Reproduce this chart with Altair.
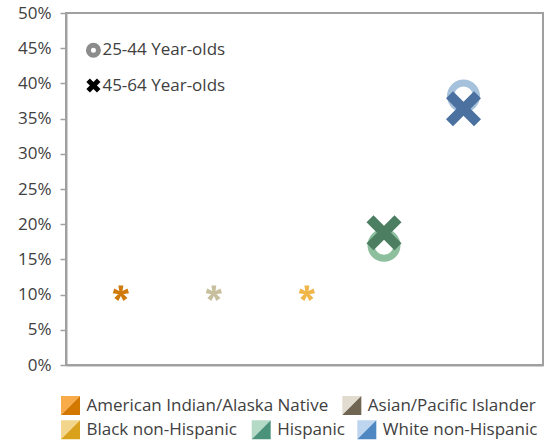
import altair as alt
import numpy as np
import pandas as pd

# ---- data -------------------------------------------------------------
groups = [
    "American Indian/Alaska Native",
    "Asian/Pacific Islander",
    "Black non-Hispanic",
    "Hispanic",
    "White non-Hispanic",
]
x_pos = [0.69, 1.86, 3.03, 4.0, 5.0]
age_25_44 = [None, None, None, 17.0, 38.2]   # percent
age_45_64 = [None, None, None, 18.8, 36.4]   # percent
suppressed = [10.2, 10.2, 10.2, None, None]   # shown as asterisks

age_labels = ["25-44 Year-olds", "45-64 Year-olds"]
age_key_y = [44.7, 39.7]

y_ticks = [0, 5, 10, 15, 20, 25, 30, 35, 40, 45, 50]

# ---- styling ------------------------------------------------------------
FONT = "Open Sans"
FS = 17
TEXT = "#404040"
AXIS = "#A0A0A0"

mark_fill = ["#CF7A0B", "#C8BF9E", "#F0B64A", "#4C7F62", "#4A71A0"]
ring_color = ["#CF7A0B", "#C8BF9E", "#F0B64A", "#8DBE9E", "#A6C1DB"]
swatch_light = ["#F9AB4A", "#E2DCD0", "#F3D58C", "#B4DAC6", "#BDD5EE"]
swatch_dark = ["#D27700", "#6F6550", "#DAA21C", "#4A937A", "#4E87C1"]

# legend layout: row and swatch-centre offset from the plot's left edge (px)
legend_row = [0, 0, 1, 1, 1]
legend_col = [4.5, 285.8, 4.5, 195.2, 300.8]
LEGEND_ROWS_PX = [392.5, 416.7]

W, H = 477, 352


def x_shape(k):
    pts = [(-1 + k, -1), (0, -k), (1 - k, -1), (1, -1 + k), (k, 0), (1, 1 - k),
           (1 - k, 1), (0, k), (-1 + k, 1), (-1, 1 - k), (-k, 0), (-1, -1 + k)]
    return "M" + " L".join(f"{a:.3f},{b:.3f}" for a, b in pts) + " Z"


def asterisk_shape(wb=0.16, we=0.32, arms=5):
    parts = []
    for i in range(arms):
        t = np.deg2rad(i * 360 / arms)
        d = np.array([np.sin(t), -np.cos(t)])
        p = np.array([np.cos(t), np.sin(t)])
        c0, c1 = -d * 0.05, d * 1.0
        pts = [c0 + p * wb, c1 + p * we, c1 - p * we, c0 - p * wb]
        parts.append("M" + " L".join(f"{a:.3f},{b:.3f}" for a, b in pts) + " Z")
    return " ".join(parts)


X_BIG = x_shape(0.40)
X_KEY = x_shape(0.50)
STAR = asterisk_shape()
TRI_UL = "M-1,-1 L1,-1 L-1,1 Z"
TRI_LR = "M1,-1 L1,1 L-1,1 Z"

df = pd.DataFrame({
    "group": groups,
    "x": x_pos,
    "a25": age_25_44,
    "a45": age_45_64,
    "sup": suppressed,
})
key_df = pd.DataFrame({"label": age_labels, "y": age_key_y, "x": [0.345, 0.345]})

xs = alt.Scale(domain=[0, 6])
ys = alt.Scale(domain=[0, 50])
x_axis = alt.Axis(labels=False, ticks=False, grid=False, title=None,
                  domainColor=AXIS, domainWidth=2)
y_axis = alt.Axis(values=y_ticks, labelExpr="datum.value + '%'", labelOverlap=False,
                  grid=False, title=None, domainColor=AXIS, domainWidth=2,
                  tickColor=AXIS, tickSize=6, tickWidth=1.5, labelPadding=9)
fill_scale = alt.Scale(domain=groups, range=mark_fill)
ring_scale = alt.Scale(domain=groups, range=ring_color)


def px(field):
    return alt.X(field, scale=xs, axis=x_axis)


def py(field):
    return alt.Y(field, scale=ys, axis=y_axis)


base = alt.Chart(df)

rings = base.mark_point(filled=False, shape="circle", size=676, strokeWidth=7, opacity=1).encode(
    x=px("x:Q"), y=py("a25:Q"),
    stroke=alt.Stroke("group:N", scale=ring_scale, legend=None),
)

crosses = base.mark_point(filled=True, shape=X_BIG, size=1225, opacity=1).encode(
    x=px("x:Q"), y=py("a45:Q"),
    fill=alt.Fill("group:N", scale=fill_scale, legend=None),
)

stars = base.mark_point(filled=True, shape=STAR, size=240, opacity=1).encode(
    x=px("x:Q"), y=py("sup:Q"),
    fill=alt.Fill("group:N", scale=fill_scale, legend=None),
)

key = alt.Chart(key_df)
key_ring = key.transform_filter(alt.datum.label == age_labels[0]).mark_point(
    filled=False, shape="circle", size=100, strokeWidth=5, color="#8C8C8C", opacity=1
).encode(x=px("x:Q"), y=py("y:Q"))
key_x = key.transform_filter(alt.datum.label == age_labels[1]).mark_point(
    filled=True, shape=X_KEY, size=200, color="#000000", opacity=1
).encode(x=px("x:Q"), y=py("y:Q"))
key_text = key.mark_text(align="left", baseline="middle", dx=9, font=FONT, fontSize=FS,
                         color=TEXT).encode(x=px("x:Q"), y=py("y:Q"), text="label:N")

main = alt.layer(rings, crosses, stars, key_ring, key_x, key_text)

# ---- group legend below the plot -----------------------------------------
leg_df = pd.DataFrame({
    "group": groups,
    "row": legend_row,
    "col": legend_col,
})
lx = alt.Scale(domain=[0, W], range=[0, W])
ly = alt.Scale(domain=[0, 1], range=LEGEND_ROWS_PX)
leg = alt.Chart(leg_df)
tri_a = leg.mark_point(filled=True, shape=TRI_UL, size=361, opacity=1).encode(
    x=alt.X("col:Q", scale=lx, axis=None),
    y=alt.Y("row:Q", scale=ly, axis=None),
    fill=alt.Fill("group:N", scale=alt.Scale(domain=groups, range=swatch_light), legend=None),
)
tri_b = leg.mark_point(filled=True, shape=TRI_LR, size=361, opacity=1).encode(
    x=alt.X("col:Q", scale=lx, axis=None),
    y=alt.Y("row:Q", scale=ly, axis=None),
    fill=alt.Fill("group:N", scale=alt.Scale(domain=groups, range=swatch_dark), legend=None),
)
leg_text = leg.mark_text(align="left", baseline="middle", dx=16, font=FONT, fontSize=FS,
                         color=TEXT).encode(
    x=alt.X("col:Q", scale=lx, axis=None),
    y=alt.Y("row:Q", scale=ly, axis=None),
    text="group:N",
)
legend = alt.layer(tri_a, tri_b, leg_text).resolve_scale(fill="independent")

chart = alt.layer(main, legend).resolve_scale(
    fill="independent", x="independent", y="independent"
).properties(
    width=W, height=H,
    autosize=alt.AutoSizeParams(type="none"),
    padding={"left": 66, "top": 13, "right": 553 - 66 - W, "bottom": 445 - 13 - H},
    background="white",
    view=alt.ViewBackground(stroke=AXIS, strokeWidth=2),
).configure_axis(
    labelFont=FONT, labelFontSize=FS, labelColor=TEXT,
).configure_text(font=FONT)

chart.save("out.html", embed_options={"renderer": "svg", "actions": False})
